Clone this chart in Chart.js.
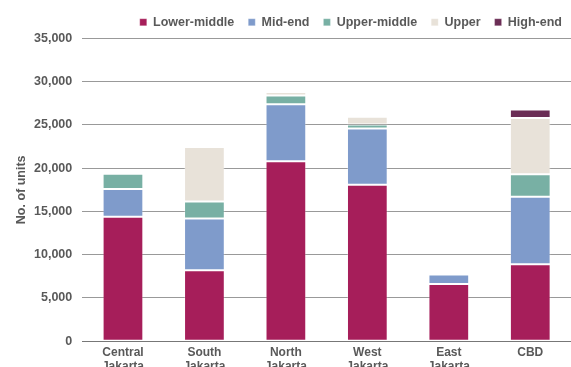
<!DOCTYPE html>
<html>
<head>
<meta charset="utf-8">
<script src="https://cdn.jsdelivr.net/npm/chart.js@4"></script>
<style>
  html, body { margin: 0; padding: 0; overflow: hidden; background: #fff; }
</style>
</head>
<body>
<canvas id="chart1" width="571" height="378"></canvas>
<script>
var categories = [['Central', 'Jakarta'], ['South', 'Jakarta'], ['North', 'Jakarta'], ['West', 'Jakarta'], ['East', 'Jakarta'], ['CBD']];
var lowerMiddle = [14400, 8200, 20800, 18100, 6600, 8900];
var midEnd = [3200, 6000, 6600, 6500, 1100, 7800];
var upperMiddle = [1750, 1950, 1000, 450, 0, 2600];
var upper = [250, 6300, 400, 900, 0, 6500];
var highEnd = [0, 250, 0, 0, 0, 1000];
var yTicks = [0, 5000, 10000, 15000, 20000, 25000, 30000, 35000];

var fontFamily = 'Liberation Sans, Arial, sans-serif';
var labelFont = { family: fontFamily, size: 12.5, weight: 'bold' };
var xFont = { family: fontFamily, size: 12, weight: 'bold' };
var textColor = '#595959';

function series(label, data, color) {
    return {
        label: label,
        data: data,
        backgroundColor: color,
        borderColor: 'rgba(255,255,255,0.25)',
        borderWidth: 1,
        borderSkipped: false,
        categoryPercentage: 0.5,
        barPercentage: 1
    };
}

// nudge the legend a bit to the right, like the original
var legendShift = {
    id: 'legendShift',
    afterLayout: function (chart) {
        chart.legend.left += 5;
        chart.legend.right += 5;
    }
};

var ctx = document.getElementById('chart1').getContext('2d');
var myChart = new Chart(ctx, {
    type: 'bar',
    data: {
        labels: categories,
        datasets: [
            series('Lower-middle', lowerMiddle, '#A61E5A'),
            series('Mid-end', midEnd, '#7F9BCB'),
            series('Upper-middle', upperMiddle, '#78B0A4'),
            series('Upper', upper, '#E8E2D9'),
            series('High-end', highEnd, '#6B2D55')
        ]
    },
    plugins: [legendShift],
    options: {
        responsive: false,
        animation: false,
        layout: { padding: { left: 14, right: 0, top: 2, bottom: 0 } },
        plugins: {
            legend: {
                position: 'top',
                align: 'end',
                labels: {
                    font: labelFont,
                    color: textColor,
                    boxWidth: 7,
                    boxHeight: 7,
                    padding: 14
                }
            },
            tooltip: { enabled: false }
        },
        scales: {
            x: {
                stacked: true,
                grid: { display: false, drawTicks: false },
                border: { display: true, color: '#777', width: 1 },
                ticks: { font: xFont, color: textColor, padding: 4, maxRotation: 0 }
            },
            y: {
                stacked: true,
                min: 0,
                max: 35000,
                afterBuildTicks: function (axis) {
                    axis.ticks = yTicks.map(function (v) { return { value: v }; });
                },
                afterFit: function (axis) {
                    axis.width -= 10;
                },
                grid: { color: '#999', lineWidth: 1, drawTicks: false },
                border: { display: false },
                ticks: {
                    font: labelFont,
                    color: textColor,
                    padding: 10,
                    callback: function (v) { return v.toLocaleString('en-US'); }
                },
                title: {
                    display: true,
                    text: 'No. of units',
                    font: labelFont,
                    color: textColor,
                    padding: { top: 0, bottom: 5 }
                }
            }
        }
    }
});
</script>
</body>
</html>
